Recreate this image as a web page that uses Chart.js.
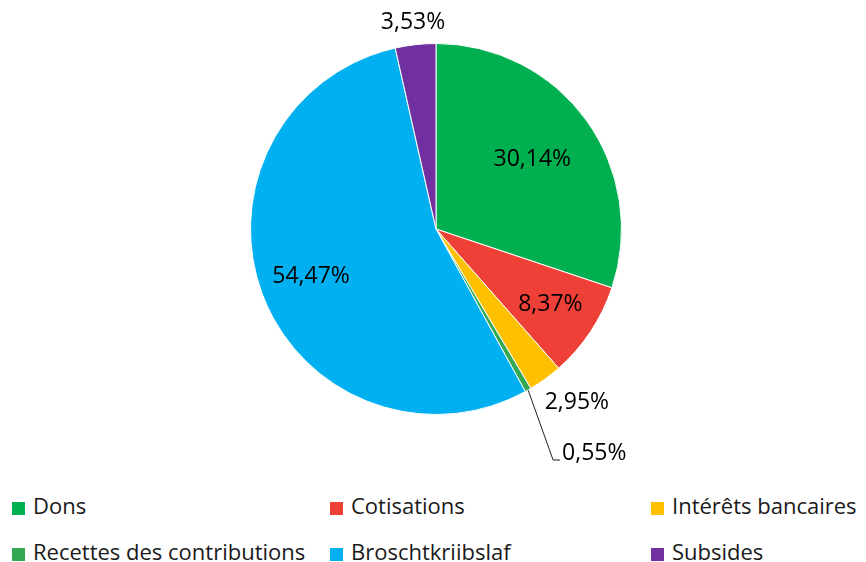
<!DOCTYPE html>
<html>
<head>
<meta charset="utf-8">
<script src="https://cdn.jsdelivr.net/npm/chart.js@4.4.0/dist/chart.umd.min.js"></script>
<style>
  body { margin: 0; background: #fff; font-family: "Open Sans", sans-serif; }
  #wrap { position: relative; width: 866px; height: 562px; }
  #myChart { position: absolute; left: 0; top: 0; }
  .leg { position: absolute; font-size: 22px; color: #1a1a1a; line-height: 24px; white-space: nowrap; }
  .leg span { display: inline-block; width: 13px; height: 13px; margin-right: 8px; vertical-align: -1px; }
</style>
</head>
<body>
<div id="wrap">
  <canvas id="myChart" width="866" height="480"></canvas>
  <div id="legend"></div>
</div>
<script>
// data
var labels = ['Dons', 'Cotisations', 'Intérêts bancaires', 'Recettes des contributions', 'Broschtkriibslaf', 'Subsides'];
var values = [30.14, 8.37, 2.95, 0.55, 54.47, 3.53];
var valueLabels = ['30,14%', '8,37%', '2,95%', '0,55%', '54,47%', '3,53%'];
var colors = ['#00B050', '#EE4036', '#FFC000', '#35A853', '#00B0F0', '#7030A0'];

// where each value label goes: fraction of radius along the slice's middle
var labelPlace = [
  { r: 0.64 },
  { r: 0.74 },
  { r: 1.16, align: 'left' },
  { leader: true },
  { r: 0.72 },
  { r: 1.12 }
];

var pieLabels = {
  id: 'pieLabels',
  afterDatasetsDraw: function(chart) {
    var ctx = chart.ctx;
    var meta = chart.getDatasetMeta(0);
    ctx.save();
    ctx.font = '23px "Open Sans"';
    ctx.fillStyle = '#000';
    ctx.textBaseline = 'middle';
    meta.data.forEach(function(arc, i) {
      var p = labelPlace[i];
      var mid = (arc.startAngle + arc.endAngle) / 2;
      var R = arc.outerRadius;
      if (p.leader) {
        var ex = arc.x + Math.cos(mid) * R;
        var ey = arc.y + Math.sin(mid) * R;
        ctx.strokeStyle = '#222';
        ctx.lineWidth = 1;
        ctx.beginPath();
        ctx.moveTo(ex, ey);
        ctx.lineTo(ex + 25, ey + 70);
        ctx.lineTo(ex + 32, ey + 70);
        ctx.stroke();
        ctx.textAlign = 'left';
        ctx.fillText(valueLabels[i], ex + 34, ey + 63);
        return;
      }
      var x = arc.x + Math.cos(mid) * R * p.r;
      var y = arc.y + Math.sin(mid) * R * p.r;
      ctx.textAlign = 'center';
      if (p.align === 'left') {
        ctx.textAlign = 'left';
        x -= 18;
      }
      ctx.fillText(valueLabels[i], x, y);
    });
    ctx.restore();
  }
};

var element = document.getElementById('myChart').getContext('2d');
var chart = new Chart(element, {
  type: 'pie',
  data: {
    labels: labels,
    datasets: [{
      data: values,
      backgroundColor: colors,
      borderColor: '#ffffff',
      borderWidth: 1
    }]
  },
  options: {
    responsive: false,
    animation: false,
    layout: { padding: { left: 6, top: 43, bottom: 65, right: 0 } },
    plugins: {
      legend: { display: false },
      tooltip: { enabled: false }
    }
  },
  plugins: [pieLabels]
});

// legend, 3 columns x 2 rows
var legCols = [12, 330, 651];
var legRows = [493, 539];
var legend = document.getElementById('legend');
labels.forEach(function(name, i) {
  var d = document.createElement('div');
  d.className = 'leg';
  d.style.left = legCols[i % 3] + 'px';
  d.style.top = legRows[Math.floor(i / 3)] + 'px';
  d.innerHTML = '<span style="background:' + colors[i] + '"></span>' + name;
  legend.appendChild(d);
});
</script>
</body>
</html>
